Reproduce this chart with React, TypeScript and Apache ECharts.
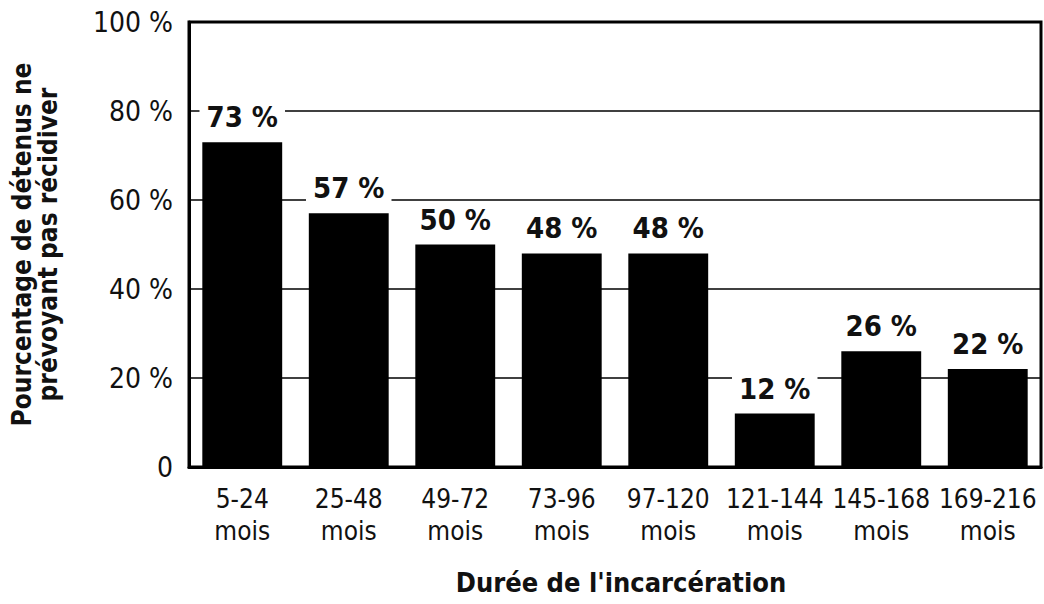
import React, { useEffect, useRef } from "react";
import * as echarts from "echarts";

const categories = ["5-24", "25-48", "49-72", "73-96", "97-120", "121-144", "145-168", "169-216"];
const unitLabel = "mois";
const values = [73, 57, 50, 48, 48, 12, 26, 22];
const yTicks = [0, 20, 40, 60, 80, 100];
const yTitle = "Pourcentage de détenus ne\nprévoyant pas récidiver";
const xTitle = "Durée de l'incarcération";

const FONT = "'Liberation Sans Narrow', 'DejaVu Sans Condensed', 'Liberation Sans', sans-serif";

export default function App() {
  const ref = useRef<HTMLDivElement>(null);
  useEffect(() => {
    if (!ref.current) return;
    const chart = echarts.init(ref.current, null, { renderer: "svg" });
    chart.setOption({
      animation: false,
      backgroundColor: "#fff",
      grid: {
        left: 189,
        right: 3,
        top: 22,
        bottom: 137,
        containLabel: false,
        show: true,
        borderColor: "#000",
        borderWidth: 3,
      },
      xAxis: {
        type: "category",
        data: categories,
        name: xTitle,
        nameLocation: "middle",
        nameGap: 102,
        nameTextStyle: {
          fontFamily: FONT,
          fontWeight: "bold",
          fontSize: 27,
          color: "#111",
          padding: [0, 0, 0, 12],
        },
        axisLine: { show: true, lineStyle: { color: "#000", width: 3 } },
        axisTick: { show: false },
        axisLabel: {
          margin: 16,
          fontFamily: FONT,
          fontSize: 26,
          lineHeight: 32,
          color: "#111",
          interval: 0,
          formatter: (v: string) => v + "\n" + unitLabel,
        },
      },
      yAxis: {
        type: "value",
        min: yTicks[0],
        max: yTicks[yTicks.length - 1],
        interval: 20,
        name: yTitle,
        nameLocation: "middle",
        nameRotate: 90,
        nameGap: 128,
        nameTextStyle: {
          fontFamily: FONT,
          fontWeight: "bold",
          fontSize: 26,
          lineHeight: 26,
          color: "#111",
        },
        axisLine: { show: true, lineStyle: { color: "#000", width: 3 } },
        axisTick: { show: false },
        splitLine: { show: true, lineStyle: { color: "#000", width: 1.5 } },
        axisLabel: {
          margin: 16,
          fontFamily: FONT,
          fontSize: 28,
          color: "#111",
          formatter: (v: number) => (v === 0 ? "0" : v + " %"),
        },
      },
      series: [
        {
          type: "bar",
          data: values,
          barWidth: "75%",
          itemStyle: { color: "#000" },
          label: {
            show: true,
            position: "top",
            distance: 10,
            fontFamily: FONT,
            fontWeight: "bold",
            fontSize: 29,
            lineHeight: 30,
            color: "#111",
            backgroundColor: "#fff",
            padding: [0, 7],
            formatter: (p: any) => p.value + " %",
          },
        },
      ],
    });
    return () => chart.dispose();
  }, []);
  return <div ref={ref} style={{ width: 1044, height: 604, position: "absolute", left: 0, top: 0 }} />;
}
